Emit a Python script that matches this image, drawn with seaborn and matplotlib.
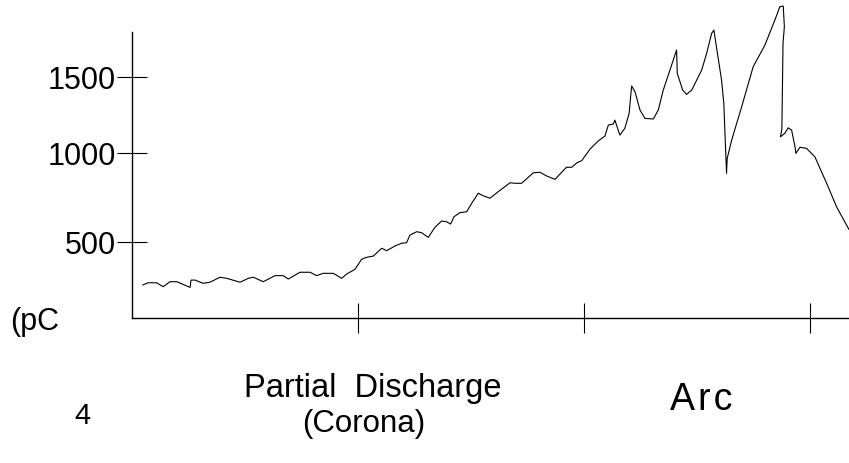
import numpy as np
import pandas as pd
import matplotlib
matplotlib.use('Agg')
import matplotlib.pyplot as plt
import seaborn as sns

# time axis (ticks at 1, 2, 3) and discharge magnitude in pC
t = [0.047, 0.071, 0.109, 0.138, 0.168, 0.198, 0.257, 0.261, 0.279, 0.315,
     0.345, 0.389, 0.419, 0.478, 0.515, 0.537, 0.581, 0.633, 0.669, 0.692,
     0.743, 0.788, 0.817, 0.846, 0.891, 0.928, 0.950, 0.987, 1.016, 1.038,
     1.068, 1.105, 1.127, 1.164, 1.193, 1.215, 1.230, 1.260, 1.282, 1.311,
     1.341, 1.370, 1.392, 1.410, 1.425, 1.451, 1.481, 1.503, 1.518, 1.532,
     1.554, 1.584, 1.621, 1.673, 1.695, 1.724, 1.776, 1.805, 1.835, 1.872,
     1.894, 1.923, 1.946, 1.970, 1.990, 2.027, 2.063, 2.093, 2.108, 2.130,
     2.137, 2.159, 2.181, 2.200, 2.211, 2.226, 2.248, 2.270, 2.307, 2.329,
     2.351, 2.388, 2.410, 2.413, 2.437, 2.454, 2.477, 2.521, 2.543, 2.565,
     2.575, 2.584, 2.609, 2.619, 2.631, 2.634, 2.654, 2.698, 2.749, 2.801,
     2.845, 2.867, 2.882, 2.887, 2.881, 2.876, 2.870, 2.889, 2.904, 2.919,
     2.934, 2.938, 2.956, 2.985, 3.022, 3.074, 3.118, 3.173]
pc = [258, 271, 271, 249, 277, 277, 245, 286, 286, 268,
      274, 302, 296, 274, 296, 302, 277, 311, 311, 292,
      330, 330, 311, 324, 324, 296, 320, 347, 403, 414,
      421, 465, 451, 478, 493, 496, 539, 558, 552, 526,
      583, 618, 614, 601, 642, 665, 670, 717, 746, 774,
      760, 746, 783, 833, 830, 830, 889, 892, 871, 852,
      882, 920, 920, 946, 957, 1026, 1079, 1112, 1184, 1191,
      1217, 1118, 1163, 1261, 1441, 1403, 1283, 1228, 1224, 1283,
      1414, 1579, 1678, 1524, 1414, 1386, 1414, 1546, 1656, 1787,
      1809, 1722, 1480, 1327, 886, 970, 1086, 1305, 1568, 1711,
      1875, 1963, 1967, 1831, 1722, 1163, 1107, 1130, 1166, 1151,
      1041, 998, 1038, 1031, 979, 830, 698, 570]

yticks = [500, 1000, 1500]
xticks = [1, 2, 3]

df = pd.DataFrame({'t': t, 'pc': pc})

sns.set_theme(style='white')
plt.rcParams['font.family'] = ['Liberation Sans', 'DejaVu Sans']
plt.rcParams['text.color'] = 'black'

fig = plt.figure(figsize=(8.49, 4.63), dpi=100)
ax = fig.add_axes([132 / 849, 145 / 463, 717 / 849, 318 / 463])

# the original axis is not evenly spaced between its ticks
sv = [0, 500, 1000, 1500, 2500]
sp = [-331, -242, -153, -77, 75]
ax.set_yscale('function', functions=(lambda v: np.interp(v, sv, sp),
                                     lambda p: np.interp(p, sp, sv)))

sns.lineplot(data=df, x='t', y='pc', sort=False, estimator=None,
             color='black', linewidth=0.8, ax=ax)

ax.set_xlim(0, 3.173)
ax.set_ylim(73, 2007)
ax.set_xticks(xticks)
ax.set_xticklabels([])
ax.set_yticks(yticks)
ax.set_yticklabels([str(v) for v in yticks], fontsize=22)
ax.tick_params(axis='both', direction='inout', length=21, width=0.8,
               color='black', labelcolor='black', pad=1,
               bottom=True, left=True)
ax.set_xlabel('')
ax.set_ylabel('')
for s in ['top', 'right']:
    ax.spines[s].set_visible(False)
for s in ['left', 'bottom']:
    ax.spines[s].set_color('black')
    ax.spines[s].set_linewidth(1.0)
ax.spines['left'].set_bounds(73, 1796)

def px(x, y):
    return x / 849, 1 - y / 463

fig.text(*px(35, 322), '(pC', fontsize=22, ha='center', va='center')
fig.text(*px(82, 416), '4', fontsize=21, ha='center', va='center')
fig.text(*px(373, 389), 'Partial  Discharge', fontsize=23.5, ha='center', va='center')
fig.text(*px(364, 424), '(Corona)', fontsize=22.5, ha='center', va='center')
fig.text(*px(701, 400), 'A\u200ar\u200ac', fontsize=27, ha='center', va='center')

fig.savefig('out.png', dpi=100)
